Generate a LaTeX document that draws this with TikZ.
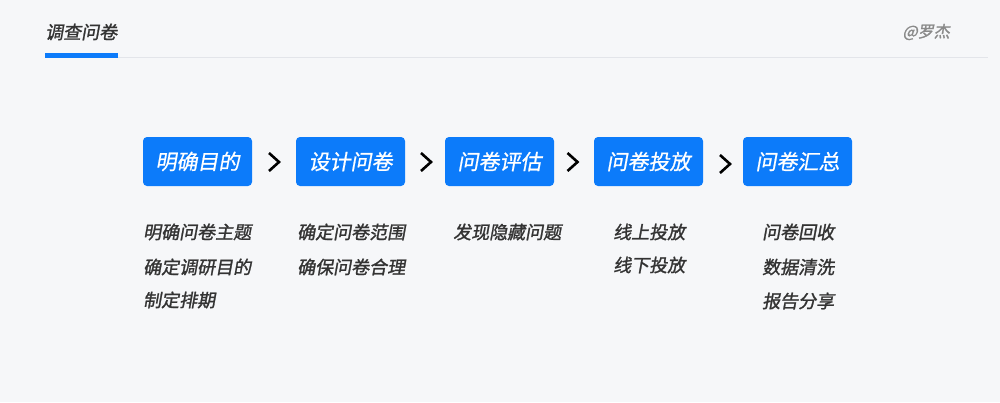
\documentclass[tikz,border=0pt]{standalone}
\usepackage{fontspec}
\newfontfamily\cjk[FakeSlant=0.18,FakeBold=0.8]{Noto Sans CJK SC}
\newfontfamily\cjkb[FakeSlant=0.18,FakeBold=1.4]{Noto Sans CJK SC}
\definecolor{bg}{HTML}{F6F7F9}
\definecolor{blu}{HTML}{0C7BFA}
\definecolor{txt}{HTML}{333333}
\definecolor{gry}{HTML}{8A8A8A}
\definecolor{rule}{HTML}{E3E5EA}
\tikzset{
  x=1pt,y=-1pt,
  stepbox/.style={fill=blu,rounded corners=4pt,minimum width=109pt,minimum height=49pt,inner sep=0pt,text=white,font=\cjk\fontsize{21}{21}\selectfont},
  chev/.style={line width=2.6pt,black},
  item/.style={anchor=west,inner sep=0pt,text=txt,font=\cjkb\fontsize{18}{18}\selectfont},
}
\begin{document}
\begin{tikzpicture}
\fill[bg] (0,0) rectangle (1000,402);
\useasboundingbox (0,0) rectangle (1000,402);
% header
\node[anchor=west,inner sep=0pt,text=txt,font=\cjkb\fontsize{18}{18}\selectfont] (title) at (45,32) {调查问卷};
\node[anchor=east,inner sep=0pt,text=gry,font=\cjkb\fontsize{16}{16}\selectfont] (author) at (950,32) {@罗杰};
\draw[rule,line width=1pt] (45,57.5) -- (988,57.5);
\fill[blu] (45,53) rectangle (118,57.5);
% boxes
\node[stepbox] (b1) at (197.5,161.5) {明确目的};
\node[stepbox] (b2) at (350.5,161.5) {设计问卷};
\node[stepbox] (b3) at (499.5,161.5) {问卷评估};
\node[stepbox] (b4) at (648.5,161.5) {问卷投放};
\node[stepbox] (b5) at (797.5,161.5) {问卷汇总};
% chevrons
\coordinate (c1) at (274,162);
\coordinate (c2) at (426,162);
\coordinate (c3) at (572.5,162);
\coordinate (c4) at (725,164);
\foreach \c in {c1,c2,c3,c4}{
  \draw[chev] ([shift={(-5,-9)}]\c) -- ([shift={(5,0)}]\c) -- ([shift={(-5,9)}]\c);
}
% items
\node[item] (t11) at (143,232) {明确问卷主题};
\node[item] (t12) at (143,267) {确定调研目的};
\node[item] (t13) at (143,300) {制定排期};
\node[item] (t21) at (297,232) {确定问卷范围};
\node[item] (t22) at (297,267) {确保问卷合理};
\node[item] (t31) at (453,232) {发现隐藏问题};
\node[item] (t41) at (613,232) {线上投放};
\node[item] (t42) at (613,265) {线下投放};
\node[item] (t51) at (762,232) {问卷回收};
\node[item] (t52) at (762,267) {数据清洗};
\node[item] (t53) at (762,301) {报告分享};
\end{tikzpicture}
\end{document}
